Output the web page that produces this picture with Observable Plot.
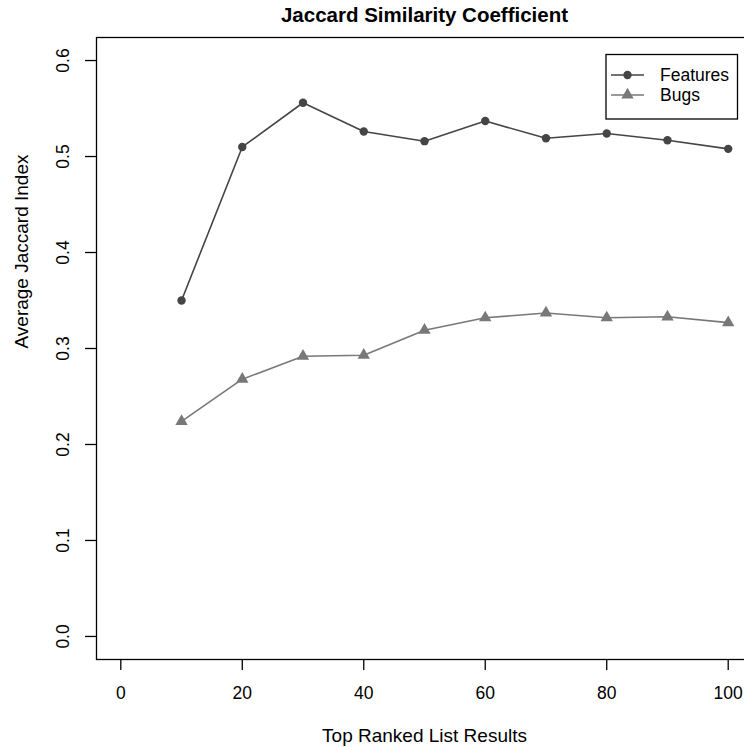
<!DOCTYPE html>
<html>
<head>
<meta charset="utf-8">
<script src="https://cdn.jsdelivr.net/npm/d3@7"></script>
<script src="https://cdn.jsdelivr.net/npm/@observablehq/plot@0.6"></script>
<style>
  html, body { margin: 0; padding: 0; background: white; overflow: hidden; }
  #chart { width: 744px; height: 747px; }
</style>
</head>
<body>
<div id="chart"></div>
<script>
const topN = [10, 20, 30, 40, 50, 60, 70, 80, 90, 100];
const features = [0.350, 0.510, 0.556, 0.526, 0.516, 0.537, 0.519, 0.524, 0.517, 0.508];
const bugs = [0.224, 0.268, 0.292, 0.293, 0.319, 0.332, 0.337, 0.332, 0.333, 0.327];
const xTicks = [0, 20, 40, 60, 80, 100];
const yTicks = [0, 0.1, 0.2, 0.3, 0.4, 0.5, 0.6];
const yTickLabels = ["0.0", "0.1", "0.2", "0.3", "0.4", "0.5", "0.6"];
const seriesNames = ["Features", "Bugs"];
const title = "Jaccard Similarity Coefficient";
const xTitle = "Top Ranked List Results";
const yTitle = "Average Jaccard Index";

const colFeat = "#454545";
const colBugs = "#787878";
const font = "'Liberation Sans', Arial, sans-serif";

const data = topN.map((x, i) => ({x, features: features[i], bugs: bugs[i]}));
const yTickData = yTicks.map((v, i) => ({v, label: yTickLabels[i]}));

const chart = Plot.plot({
  width: 744,
  height: 747,
  marginLeft: 96,
  marginRight: -8,
  marginTop: 37,
  marginBottom: 88,
  x: {domain: [-4, 104]},
  y: {domain: [-0.024, 0.624]},
  style: {fontFamily: font, background: "white", color: "black", overflow: "hidden"},
  marks: [
    Plot.frame({stroke: "black", strokeWidth: 1.3}),
    Plot.axisX({ticks: xTicks, tickSize: 11, tickPadding: 16, fontSize: 17.5, label: null, strokeWidth: 1.3}),
    Plot.axisY({ticks: yTicks, tickSize: 11, tickFormat: () => "", label: null, strokeWidth: 1.3}),
    Plot.text(yTickData, {y: "v", text: "label", frameAnchor: "left", dx: -33, rotate: -90,
      textAnchor: "middle", lineAnchor: "middle", fontSize: 17.5, fill: "black"}),
    Plot.line(data, {x: "x", y: "features", stroke: colFeat, strokeWidth: 1.6}),
    Plot.line(data, {x: "x", y: "bugs", stroke: colBugs, strokeWidth: 1.6}),
    Plot.dot(data, {x: "x", y: "features", r: 4.2, fill: colFeat, symbol: "circle"}),
    Plot.dot(data, {x: "x", y: "bugs", r: 4.6, fill: colBugs, symbol: "triangle"}),
    Plot.text([title], {frameAnchor: "top", dy: -22, fontWeight: "bold", fontSize: 20.5, lineAnchor: "middle", fill: "black"}),
    Plot.text([xTitle], {frameAnchor: "bottom", dy: 76, fontSize: 19, lineAnchor: "middle", fill: "black"}),
    Plot.text([yTitle], {frameAnchor: "left", dx: -74.3, rotate: -90, fontSize: 19, lineAnchor: "middle", fill: "black"})
  ]
});

document.getElementById("chart").appendChild(chart);

// legend (R-style boxed legend)
const svg = d3.select(chart);
const lg = svg.append("g").attr("font-family", font).attr("text-anchor", "start");
lg.append("rect")
  .attr("x", 606).attr("y", 54.5).attr("width", 131.5).attr("height", 64.5)
  .attr("fill", "white").attr("stroke", "black").attr("stroke-width", 1.3);
const entries = [
  {name: seriesNames[0], color: colFeat, sym: d3.symbolCircle, size: Math.PI * 4.2 * 4.2},
  {name: seriesNames[1], color: colBugs, sym: d3.symbolTriangle, size: Math.PI * 4.6 * 4.6}
];
entries.forEach((e, i) => {
  const cy = 75 + i * 20;
  lg.append("line").attr("x1", 611).attr("x2", 644).attr("y1", cy).attr("y2", cy)
    .attr("stroke", e.color).attr("stroke-width", 1.6);
  lg.append("path").attr("d", d3.symbol(e.sym, e.size)())
    .attr("transform", `translate(627.5,${cy})`).attr("fill", e.color);
  lg.append("text").attr("x", 660).attr("y", cy).attr("dy", "0.35em")
    .attr("text-anchor", "start")
    .attr("font-size", 17.5).attr("fill", "black").text(e.name);
});
</script>
</body>
</html>
